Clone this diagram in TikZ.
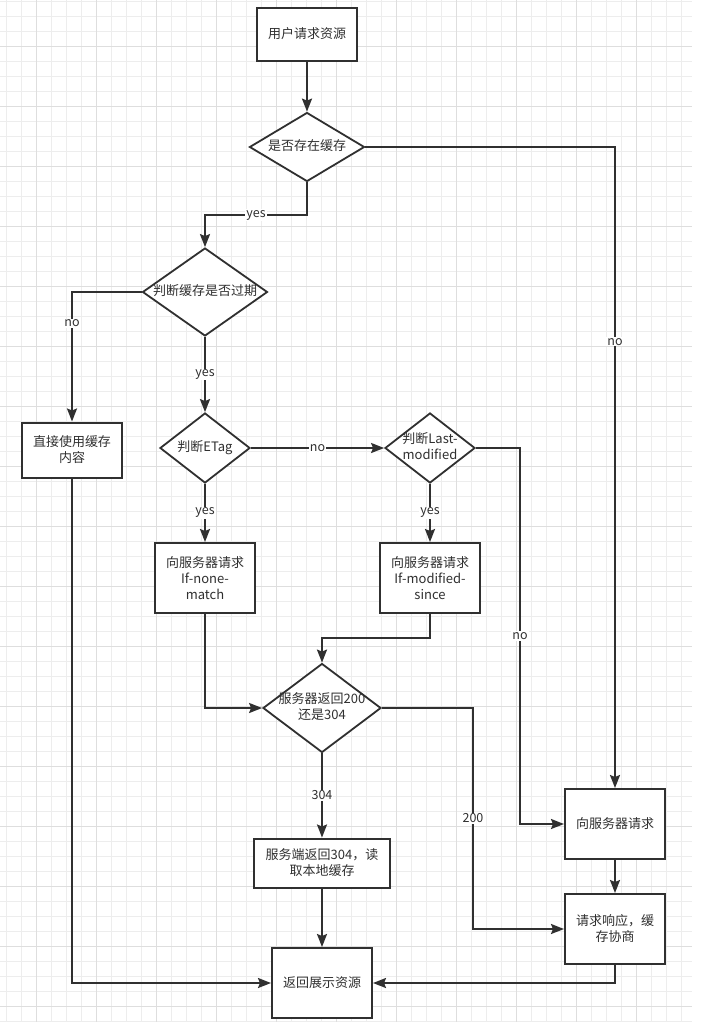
\documentclass[tikz,border=0pt]{standalone}
\usepackage{fontspec}
\setmainfont{Noto Sans CJK SC}
\usetikzlibrary{arrows.meta}
\usetikzlibrary{shapes.geometric}
\definecolor{inkgray}{HTML}{303030}
\definecolor{gridminor}{HTML}{EDEDED}
\definecolor{gridmajor}{HTML}{DEDEDE}
\tikzstyle{block} = [rectangle, draw=inkgray, line width=2pt, fill=white, minimum width=100pt, minimum height=70pt, inner sep=0pt, align=center, text=inkgray, font=\fontsize{13}{16}\selectfont]
\tikzstyle{decision} = [diamond, draw=inkgray, line width=1.8pt, fill=white, inner sep=0pt, text=inkgray, font=\fontsize{13}{16}\selectfont]
\tikzstyle{arrow} = [-{Stealth[length=13pt,width=10pt,inset=2pt]}, draw=inkgray, line width=2pt]
\tikzstyle{edgelabel} = [fill=white, inner sep=1pt, text=inkgray, font=\fontsize{12.5}{14}\selectfont]
\newcommand{\ctext}[1]{\makebox[0pt]{\begin{tabular}{@{}c@{}}#1\end{tabular}}}

\begin{document}
\begin{tikzpicture}[x=1pt, y=-1pt]

  % Page and grid
  \useasboundingbox (0,0) rectangle (702,1031);
  \fill[white] (0,0) rectangle (702,1031);
  \foreach \gx in {6.7,21.7,...,690} \draw[gridminor, line width=1pt] (\gx,0) -- (\gx,1022);
  \foreach \gy in {1.7,16.7,...,1025} \draw[gridminor, line width=1pt] (0,\gy) -- (692,\gy);
  \foreach \gx in {36.7,96.7,...,690} \draw[gridmajor, line width=1pt] (\gx,0) -- (\gx,1022);
  \foreach \gy in {46.7,106.7,...,1025} \draw[gridmajor, line width=1pt] (0,\gy) -- (692,\gy);

  \coordinate (yesTurn) at (0,215);
  \coordinate (lmTurn) at (520,0);
  \coordinate (sinceTurn) at (0,638);
  \coordinate (okTurn) at (473,0);

  % Request
  \node [block, minimum height=53pt] (userReq) at (307,34) {用户请求资源};

  % Cache present
  \node [decision, minimum width=115pt, minimum height=69pt] (hasCache) at (307,147) {\ctext{是否存在缓存}};

  % Cache expired
  \node [decision, minimum width=125pt, minimum height=88pt] (expired) at (205,292) {\ctext{判断缓存是否过期}};

  % Use cache directly
  \node [block, minimum height=55pt] (direct) at (72,450) {直接使用缓存\\内容};

  % ETag / Last-modified
  \node [decision, minimum width=90pt, minimum height=70pt] (etag) at (205,448) {\ctext{判断ETag}};
  \node [decision, minimum width=90pt, minimum height=70pt] (lastMod) at (430,448) {\ctext{判断Last-\\modified}};

  % Conditional requests
  \node [block] (ifNone) at (205,578) {向服务器请求\\If-none-\\match};
  \node [block] (ifModified) at (430,578) {向服务器请求\\If-modified-\\since};

  % Server answer
  \node [decision, minimum width=118pt, minimum height=89pt] (result) at (322,708) {\ctext{服务器返回200\\还是304}};
  \node [block, minimum width=136pt, minimum height=49pt] (readLocal) at (322,863) {服务端返回304，读\\取本地缓存};

  % Right column
  \node [block] (serverReq) at (615,824) {向服务器请求};
  \node [block] (negotiate) at (615,929) {请求响应，缓\\存协商};

  % Show
  \node [block] (show) at (322,983) {返回展示资源};


  % Connectors
  \draw [arrow] (userReq) -- (hasCache);
  \draw [arrow] (hasCache) -- (hasCache |- yesTurn) -| node [edgelabel, pos=0.25] {yes} (expired);
  \draw [arrow] (hasCache) -| node [edgelabel, pos=0.652] {no} (serverReq);
  \draw [arrow] (expired) -| node [edgelabel, pos=0.62] {no} (direct);
  \draw [arrow] (expired) -- node [edgelabel] {yes} (etag);
  \draw [arrow] (etag) -- node [edgelabel] {no} (lastMod);
  \draw [arrow] (lastMod.east) -- (lastMod.east -| lmTurn) -- node [edgelabel] {no} (lmTurn |- serverReq) -- (serverReq);
  \draw [arrow] (etag) -- node [edgelabel] {yes} (ifNone);
  \draw [arrow] (lastMod) -- node [edgelabel] {yes} (ifModified);
  \draw [arrow] (ifModified) -- (ifModified |- sinceTurn) -| (result);
  \draw [arrow] (ifNone) |- (result);
  \draw [arrow] (result.east) -- (result.east -| okTurn) -- node [edgelabel] {200} (okTurn |- negotiate) -- (negotiate);
  \draw [arrow] (result) -- node [edgelabel] {304} (readLocal);
  \draw [arrow] (readLocal) -- (show);
  \draw [arrow] (serverReq) -- (negotiate);
  \draw [arrow] (direct) |- (show);
  \draw [arrow] (negotiate) |- (show);

\end{tikzpicture}
\end{document}
